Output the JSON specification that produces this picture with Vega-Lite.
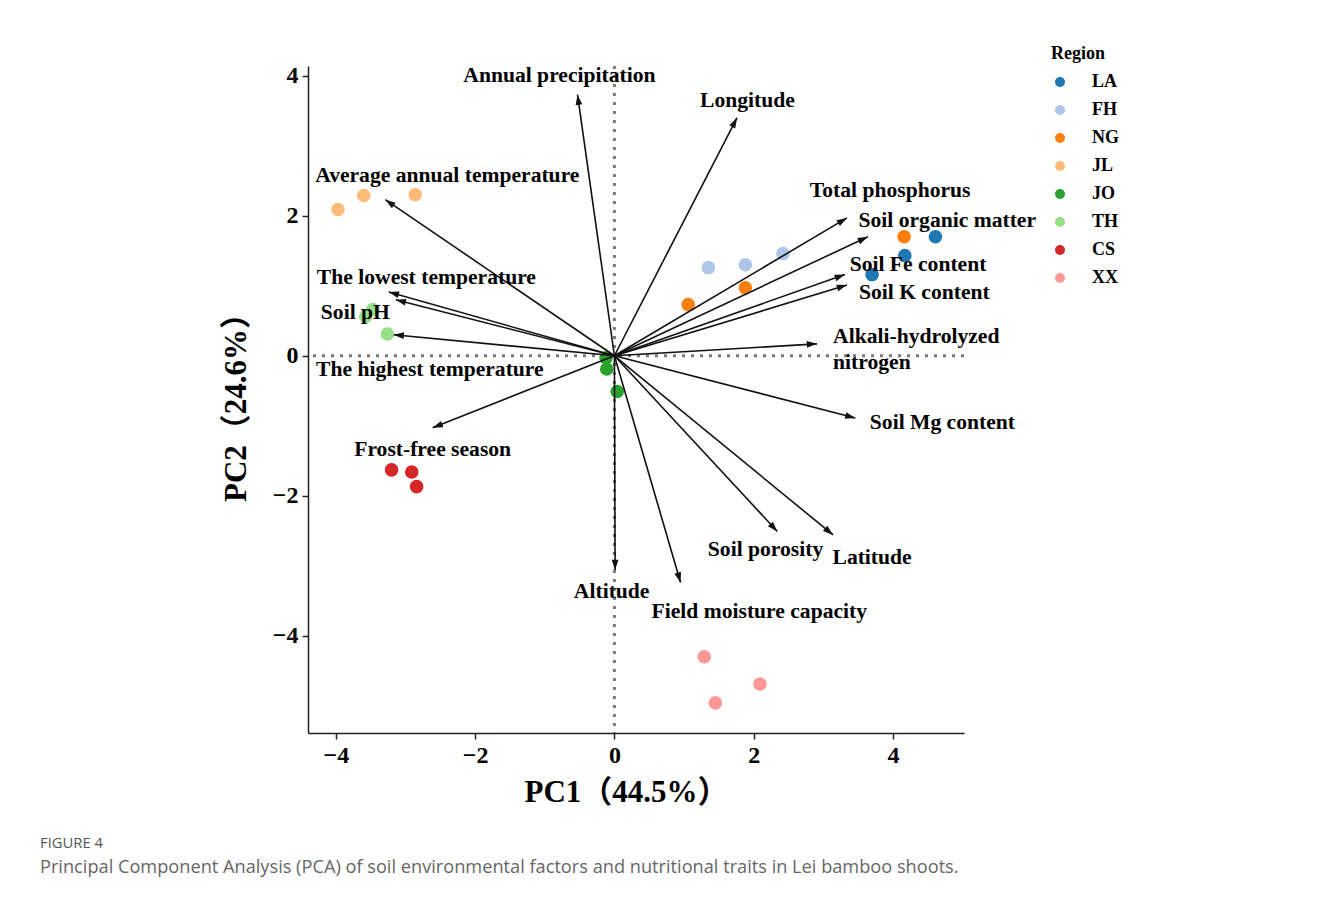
{
  "$schema": "https://vega.github.io/schema/vega-lite/v6.json",
  "autosize": {"type": "none"},
  "padding": {"left": 308, "top": 66, "right": 356, "bottom": 164},
  "width": 656,
  "height": 667,
  "background": "white",
  "config": {
    "view": {"stroke": null},
    "axis": {
      "grid": false,
      "domainColor": "#222",
      "domainWidth": 1.5,
      "tickColor": "#222",
      "tickWidth": 1.5,
      "tickSize": 6,
      "labelFont": "Liberation Serif",
      "labelFontWeight": "bold",
      "labelFontSize": 24,
      "labelColor": "black",
      "titleFont": "Liberation Serif, Noto Sans CJK SC",
      "titleFontWeight": "bold",
      "titleFontSize": 31,
      "titleColor": "black"
    },
    "text": {"lineBreak": "\n"}
  },
  "title": {
    "text": "FIGURE 4",
    "subtitle": "Principal Component Analysis (PCA) of soil environmental factors and nutritional traits in Lei bamboo shoots.",
    "orient": "bottom",
    "anchor": "start",
    "frame": "group",
    "dx": -268,
    "offset": 29,
    "font": "Open Sans",
    "fontSize": 14.8,
    "fontWeight": "normal",
    "color": "#555555",
    "subtitleFont": "Open Sans",
    "subtitleFontSize": 18.2,
    "subtitleColor": "#666666",
    "subtitlePadding": 8
  },
  "datasets": {
    "scores": [
      {"Region": "LA", "PC1": 4.61, "PC2": 1.70},
      {"Region": "LA", "PC1": 4.17, "PC2": 1.43},
      {"Region": "LA", "PC1": 3.70, "PC2": 1.16},
      {"Region": "FH", "PC1": 1.35, "PC2": 1.26},
      {"Region": "FH", "PC1": 1.88, "PC2": 1.30},
      {"Region": "FH", "PC1": 2.42, "PC2": 1.46},
      {"Region": "NG", "PC1": 1.06, "PC2": 0.73},
      {"Region": "NG", "PC1": 1.88, "PC2": 0.97},
      {"Region": "NG", "PC1": 4.16, "PC2": 1.70},
      {"Region": "JL", "PC1": -3.97, "PC2": 2.09},
      {"Region": "JL", "PC1": -3.60, "PC2": 2.29},
      {"Region": "JL", "PC1": -2.86, "PC2": 2.30},
      {"Region": "JO", "PC1": -0.12, "PC2": -0.03},
      {"Region": "JO", "PC1": -0.11, "PC2": -0.19},
      {"Region": "JO", "PC1": 0.04, "PC2": -0.51},
      {"Region": "TH", "PC1": -3.57, "PC2": 0.56},
      {"Region": "TH", "PC1": -3.47, "PC2": 0.66},
      {"Region": "TH", "PC1": -3.26, "PC2": 0.31},
      {"Region": "CS", "PC1": -3.20, "PC2": -1.63},
      {"Region": "CS", "PC1": -2.91, "PC2": -1.66},
      {"Region": "CS", "PC1": -2.84, "PC2": -1.87},
      {"Region": "XX", "PC1": 1.29, "PC2": -4.30},
      {"Region": "XX", "PC1": 2.09, "PC2": -4.69},
      {"Region": "XX", "PC1": 1.45, "PC2": -4.96}
    ],
    "loadings": [
      {"name": "Annual precipitation", "x": -0.53, "y": 3.73, "lx": -0.79, "ly": 3.99},
      {"name": "Longitude", "x": 1.76, "y": 3.40, "lx": 1.91, "ly": 3.64},
      {"name": "Average annual temperature", "x": -3.29, "y": 2.23, "lx": -2.40, "ly": 2.57},
      {"name": "The lowest temperature", "x": -3.24, "y": 0.91, "lx": -2.70, "ly": 1.11},
      {"name": "Soil pH", "x": -3.14, "y": 0.80, "lx": -3.72, "ly": 0.61},
      {"name": "The highest temperature", "x": -3.17, "y": 0.30, "lx": -2.65, "ly": -0.20},
      {"name": "Frost-free season", "x": -2.61, "y": -1.03, "lx": -2.61, "ly": -1.34},
      {"name": "Altitude", "x": 0.01, "y": -3.06, "lx": -0.04, "ly": -3.37},
      {"name": "Field moisture capacity", "x": 0.95, "y": -3.24, "lx": 2.08, "ly": -3.66},
      {"name": "Soil porosity", "x": 2.34, "y": -2.51, "lx": 2.17, "ly": -2.77},
      {"name": "Latitude", "x": 3.14, "y": -2.56, "lx": 3.70, "ly": -2.89},
      {"name": "Soil Mg content", "x": 3.46, "y": -0.89, "lx": 4.71, "ly": -0.96},
      {"name": "Alkali-hydrolyzed\nnitrogen", "x": 2.91, "y": 0.17, "lx": 3.14, "ly": 0.27},
      {"name": "Total phosphorus", "x": 3.34, "y": 1.97, "lx": 3.96, "ly": 2.36},
      {"name": "Soil organic matter", "x": 3.64, "y": 1.70, "lx": 4.78, "ly": 1.93},
      {"name": "Soil Fe content", "x": 3.31, "y": 1.16, "lx": 4.36, "ly": 1.30},
      {"name": "Soil K content", "x": 3.34, "y": 1.01, "lx": 4.45, "ly": 0.90}
    ],
    "zero": [{"v": 0}]
  },
  "layer": [
    {
      "data": {"name": "zero"},
      "mark": {"type": "rule", "color": "#7a7a7a", "strokeWidth": 3, "strokeDash": [3, 6]},
      "encoding": {"x": {"field": "v", "type": "quantitative", "scale": {"domain": [-4.4, 5.02], "nice": false, "zero": false}}}
    },
    {
      "data": {"name": "zero"},
      "mark": {"type": "rule", "color": "#7a7a7a", "strokeWidth": 3, "strokeDash": [3, 6]},
      "encoding": {"y": {"field": "v", "type": "quantitative", "scale": {"domain": [-5.39, 4.14], "nice": false, "zero": false}}}
    },
    {
      "data": {"name": "scores"},
      "mark": {"type": "circle", "size": 185, "opacity": 1},
      "encoding": {
        "x": {
          "field": "PC1", "type": "quantitative",
          "scale": {"domain": [-4.4, 5.02], "nice": false, "zero": false},
          "axis": {"values": [-4, -2, 0, 2, 4], "format": "d", "title": "PC1（44.5%）", "titleX": 318, "titleAlign": "center", "titlePadding": 10, "labelPadding": 4}
        },
        "y": {
          "field": "PC2", "type": "quantitative",
          "scale": {"domain": [-5.39, 4.14], "nice": false, "zero": false},
          "axis": {"values": [-4, -2, 0, 2, 4], "format": "d", "title": "PC2（24.6%）", "titlePadding": 20, "labelPadding": 4}
        },
        "color": {
          "field": "Region", "type": "nominal",
          "scale": {
            "domain": ["LA", "FH", "NG", "JL", "JO", "TH", "CS", "XX"],
            "range": ["#1f77b4", "#aec7e8", "#ff7f0e", "#ffbb78", "#2ca02c", "#98df8a", "#d62728", "#ff9896"]
          },
          "legend": {
            "title": "Region",
            "orient": "none",
            "legendX": 743,
            "legendY": -21,
            "symbolType": "circle",
            "symbolSize": 100,
            "symbolStrokeWidth": 0,
            "symbolOpacity": 1,
            "labelFont": "Liberation Serif",
            "labelFontWeight": "bold",
            "labelFontSize": 18,
            "labelColor": "black",
            "labelOffset": 23,
            "titleFont": "Liberation Serif",
            "titleFontWeight": "bold",
            "titleFontSize": 18,
            "titleColor": "black",
            "titlePadding": 10,
            "rowPadding": 10
          }
        }
      }
    },
    {
      "data": {"name": "loadings"},
      "mark": {"type": "rule", "color": "#111", "strokeWidth": 1.6},
      "encoding": {
        "x": {"field": "x", "type": "quantitative"},
        "y": {"field": "y", "type": "quantitative"},
        "x2": {"datum": 0},
        "y2": {"datum": 0}
      }
    },
    {
      "data": {"name": "loadings"},
      "transform": [{"calculate": "90 - atan2(datum.y, datum.x) * 180 / PI", "as": "ang"}],
      "mark": {"type": "point", "shape": "M0,0L0.33,1L-0.33,1Z", "size": 420, "filled": true, "color": "#111", "opacity": 1, "strokeWidth": 0},
      "encoding": {
        "x": {"field": "x", "type": "quantitative"},
        "y": {"field": "y", "type": "quantitative"},
        "angle": {"field": "ang", "type": "quantitative", "scale": null}
      }
    },
    {
      "data": {"name": "loadings"},
      "transform": [{"filter": "indexof(datum.name, 'Alkali') < 0"}],
      "mark": {"type": "text", "font": "Liberation Serif", "fontWeight": "bold", "fontSize": 21.6, "color": "black", "align": "center", "baseline": "middle"},
      "encoding": {
        "x": {"field": "lx", "type": "quantitative"},
        "y": {"field": "ly", "type": "quantitative"},
        "text": {"field": "name"}
      }
    },
    {
      "data": {"name": "loadings"},
      "transform": [{"filter": "indexof(datum.name, 'Alkali') >= 0"}],
      "mark": {"type": "text", "font": "Liberation Serif", "fontWeight": "bold", "fontSize": 21.6, "color": "black", "align": "left", "baseline": "middle", "lineHeight": 26},
      "encoding": {
        "x": {"field": "lx", "type": "quantitative"},
        "y": {"field": "ly", "type": "quantitative"},
        "text": {"field": "name"}
      }
    }
  ]
}
